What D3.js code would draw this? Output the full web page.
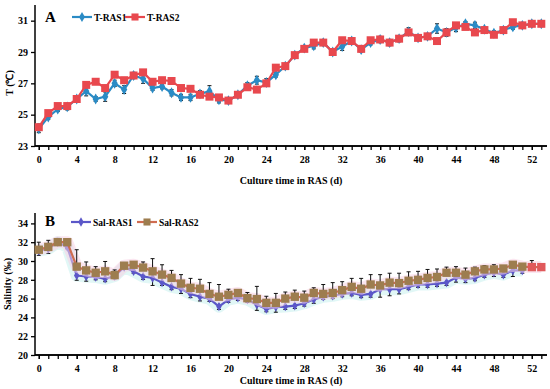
<!DOCTYPE html>
<html>
<head>
<meta charset="utf-8">
<script src="https://cdn.jsdelivr.net/npm/d3@7"></script>
<style>
  body { margin: 0; background: #fff; }
  svg text { font-family: "Liberation Serif", "Times New Roman", serif; font-weight: bold; }
</style>
</head>
<body>
<div id="chart"></div>
<script>

// days 0..53
var days = d3.range(0, 54);

// panel A, temperature (°C)
var tRas1 = [24.1, 24.85, 25.35, 25.5, 26.0, 26.5, 26.0, 26.15, 27.0, 26.6,
             27.5, 27.3, 26.7, 26.8, 26.4, 26.1, 26.1, 26.33, 26.5, 25.95,
             25.9, 26.27, 26.85, 27.2, 27.05, 27.55, 28.1, 28.8, 29.25, 29.4,
             29.6, 29.0, 29.35, 29.7, 29.15, 29.6, 29.8, 29.6, 29.85, 30.3,
             29.9, 30.0, 30.5, 30.25, 30.55, 30.8, 30.7, 30.45, 30.2, 30.4,
             30.6, 30.7, 30.8, 30.8];
var tRas2 = [24.2, 25.1, 25.55, 25.55, 26.0, 26.9, 27.1, 26.7, 27.55, 27.2,
             27.5, 27.7, 27.1, 27.2, 27.15, 26.7, 26.65, 26.27, 26.15, 26.1,
             25.9, 26.27, 26.75, 26.6, 27.0, 28.0, 28.1, 28.8, 29.2, 29.6,
             29.6, 29.0, 29.75, 29.7, 29.2, 29.75, 29.8, 29.6, 29.85, 30.25,
             29.9, 30.0, 29.7, 30.25, 30.7, 30.6, 30.25, 30.4, 30.1, 30.4,
             30.9, 30.7, 30.8, 30.8];
var tErr1 = [0.25, 0.15, 0.15, 0.2, 0.2, 0.3, 0.15, 0.3, 0.2, 0.25,
             0.2, 0.3, 0.15, 0.15, 0.2, 0.2, 0.2, 0.2, 0.35, 0.2,
             0.1, 0.15, 0.2, 0.25, 0.25, 0.15, 0.15, 0.15, 0.15, 0.2,
             0.15, 0.1, 0.25, 0.2, 0.15, 0.15, 0.2, 0.2, 0.2, 0.25,
             0.1, 0.15, 0.3, 0.25, 0.25, 0.15, 0.2, 0.15, 0.15, 0.1,
             0.15, 0.15, 0.15, 0.1];
var tErr2 = [0.2, 0.1, 0.1, 0.1, 0.15, 0.15, 0.1, 0.15, 0.15, 0.1,
             0.1, 0.1, 0.1, 0.1, 0.1, 0.1, 0.1, 0.15, 0.15, 0.15,
             0.1, 0.1, 0.1, 0.1, 0.15, 0.15, 0.15, 0.1, 0.15, 0.1,
             0.1, 0.1, 0.1, 0.1, 0.15, 0.1, 0.1, 0.15, 0.15, 0.1,
             0.1, 0.1, 0.15, 0.1, 0.1, 0.1, 0.1, 0.1, 0.1, 0.1,
             0.15, 0.1, 0.15, 0.1];

// panel B, salinity (‰)  RAS1 stops at day 51
var sRas1 = [31.1, 31.3, 32.0, 31.5, 28.45, 28.35, 28.3, 28.1, 28.4, 29.35,
             28.9, 28.35, 28.2, 27.7, 27.25, 27.05, 26.5, 26.2, 26.0, 25.15,
             25.9, 26.1, 25.9, 25.35, 24.9, 25.1, 25.15, 25.25, 25.5, 25.9,
             26.2, 26.3, 26.5, 26.6, 26.4, 26.5, 27.0, 27.0, 27.0, 27.25,
             27.5, 27.5, 27.6, 27.7, 28.25, 28.1, 28.2, 28.55, 28.75, 28.55,
             29.0, 29.0];
var sRas2 = [31.2, 31.5, 32.0, 32.0, 29.4, 29.0, 28.75, 28.9, 28.5, 29.5,
             29.6, 29.3, 28.9, 28.55, 28.2, 27.6, 27.15, 27.05, 26.5, 26.2,
             26.4, 26.6, 26.05, 25.95, 25.55, 25.55, 26.0, 26.2, 26.1, 26.6,
             26.5, 26.6, 26.9, 27.25, 27.05, 27.5, 27.4, 27.7, 27.65, 27.9,
             28.0, 28.2, 28.3, 28.75, 28.75, 28.55, 28.9, 29.1, 29.1, 29.2,
             29.6, 29.4, 29.35, 29.35];
var sErr1 = [0.5, 0.5, 0.2, 0.2, 0.5, 0.5, 0.3, 0.3, 0.3, 0.2,
             0.2, 0.3, 0.8, 0.3, 0.3, 0.5, 0.4, 0.45, 0.3, 0.3,
             0.3, 0.3, 0.3, 0.6, 0.3, 0.55, 0.3, 0.3, 0.3, 0.4,
             0.3, 0.3, 0.3, 0.3, 0.3, 0.35, 0.85, 0.7, 0.5, 0.3,
             0.3, 0.3, 0.3, 0.3, 0.5, 0.4, 0.3, 0.3, 0.4, 0.3,
             0.65, 0.3];
var sErr2 = [0.8, 0.7, 0.4, 0.1, 1.8, 0.9, 0.65, 1.05, 0.55, 0.1,
             0.15, 0.6, 1.35, 1.05, 0.8, 0.95, 1.0, 1.0, 1.2, 1.3,
             0.6, 0.35, 0.6, 1.35, 0.7, 1.0, 0.7, 0.7, 0.7, 0.55,
             1.0, 1.1, 0.9, 0.9, 1.1, 1.05, 1.15, 1.0, 1.05, 0.95,
             0.9, 0.9, 0.85, 0.6, 0.65, 0.7, 0.45, 0.4, 0.5, 0.2,
             0.25, 0.25, 0.7, 0];

var xTicks = d3.range(0, 53, 4);
var tTicks = [23, 25, 27, 29, 31];
var sTicks = [20, 22, 24, 26, 28, 30, 32, 34];

var width = 550, height = 389;

var svg = d3.select("#chart").append("svg")
    .attr("width", width)
    .attr("height", height);

var x = d3.scaleLinear().domain([-0.4, 53.6]).range([35, 547]);

function drawAxes(y, ticks, top, bottom) {
    // x axis, a tick each day, labels every 4
    var gx = svg.append("g").attr("transform", "translate(0," + bottom + ")");
    gx.call(d3.axisBottom(x).tickValues(days).tickSize(4).tickSizeOuter(0).tickFormat(""));
    gx.append("g").call(d3.axisBottom(x).tickValues(xTicks).tickSize(4).tickSizeOuter(0).tickPadding(6));
    gx.selectAll("path").attr("d", "M35,0H547");

    var gy = svg.append("g").attr("transform", "translate(35,0)");
    gy.call(d3.axisLeft(y).tickValues(ticks).tickSize(4).tickSizeOuter(0).tickPadding(3));
    gy.select("path").attr("d", "M0," + top + "V" + bottom);

    svg.selectAll(".domain").attr("stroke", "#000").attr("stroke-width", 1.5);
    svg.selectAll(".tick line").attr("stroke", "#000").attr("stroke-width", 1.3);
    svg.selectAll(".tick text").attr("fill", "#000")
        .style("font-size", "10px").style("font-family", "Liberation Serif").style("font-weight", "bold");
}

function drawSeries(y, vals, errs, color, shape, size, dir, glow, markerFill) {
    var pts = vals.map(function (v, i) { return { d: i, v: v, e: errs[i] }; });
    var line = d3.line().x(function (p) { return x(p.d); }).y(function (p) { return y(p.v); });

    if (glow) {
        svg.append("path").datum(pts)
            .attr("d", line).attr("fill", "none")
            .attr("stroke", glow).attr("stroke-width", 12)
            .attr("stroke-linejoin", "round").attr("opacity", 0.55);
    }

    // error bars
    var eb = svg.append("g").attr("stroke", "#111").attr("stroke-width", 1);
    pts.forEach(function (p) {
        if (!p.e) return;
        var lo = dir <= 0 ? p.v - p.e : p.v;
        var hi = dir >= 0 ? p.v + p.e : p.v;
        eb.append("line").attr("x1", x(p.d)).attr("x2", x(p.d)).attr("y1", y(lo)).attr("y2", y(hi));
        if (dir >= 0) eb.append("line").attr("x1", x(p.d) - 2).attr("x2", x(p.d) + 2).attr("y1", y(hi)).attr("y2", y(hi));
        if (dir <= 0) eb.append("line").attr("x1", x(p.d) - 2).attr("x2", x(p.d) + 2).attr("y1", y(lo)).attr("y2", y(lo));
    });

    svg.append("path").datum(pts)
        .attr("d", line).attr("fill", "none")
        .attr("stroke", color).attr("stroke-width", 2.2);

    svg.append("g").selectAll("path").data(pts).enter().append("path")
        .attr("d", d3.symbol().type(shape).size(size))
        .attr("transform", function (p) { return "translate(" + x(p.d) + "," + y(p.v) + ")"; })
        .attr("fill", function (p) { return markerFill ? markerFill(p) : color; });
}

function legendItem(x0, yy, color, shape, size, label, markerColor) {
    svg.append("line").attr("x1", x0).attr("x2", x0 + 20).attr("y1", yy).attr("y2", yy)
        .attr("stroke", color).attr("stroke-width", 2.2);
    svg.append("path").attr("d", d3.symbol().type(shape).size(size))
        .attr("transform", "translate(" + (x0 + 10) + "," + yy + ")")
        .attr("fill", markerColor || color);
    svg.append("text").attr("x", x0 + 22).attr("y", yy + 3.5)
        .style("font-size", "9.5px").text(label);
}

// ---------- panel A ----------
var yT = d3.scaleLinear().domain([23, 32]).range([146, 5]);
drawAxes(yT, tTicks, 5, 146);
drawSeries(yT, tRas1, tErr1, "#2a8bc5", d3.symbolDiamond, 34, 0);
drawSeries(yT, tRas2, tErr2, "#e8484e", d3.symbolSquare, 64, 0);

svg.append("text").attr("x", 45).attr("y", 22).style("font-size", "15px").text("A");
legendItem(72, 17, "#2a8bc5", d3.symbolDiamond, 30, "T-RAS1");
legendItem(125, 17, "#e8484e", d3.symbolSquare, 50, "T-RAS2");

svg.append("text")
    .attr("transform", "translate(13,83) rotate(-90)")
    .attr("text-anchor", "middle").style("font-size", "10px").text("T (℃)");
svg.append("text").attr("x", 291).attr("y", 184)
    .attr("text-anchor", "middle").style("font-size", "10px").text("Culture time in RAS (d)");

// ---------- panel B ----------
var yS = d3.scaleLinear().domain([20, 35]).range([355, 214]);
drawAxes(yS, sTicks, 213, 355);
drawSeries(yS, sRas1, sErr1, "#5b57c8", d3.symbolDiamond, 26, -1, "#c9f1ee");
drawSeries(yS, sRas2, sErr2, "#cf6c50", d3.symbolSquare, 70, 1, "#f8d2e4", function (p) {
    return p.d < sRas1.length ? "#9d7d4f" : "#e0595b";
});

svg.append("text").attr("x", 45).attr("y", 226).style("font-size", "15px").text("B");
legendItem(71, 222, "#5b57c8", d3.symbolDiamond, 26, "Sal-RAS1");
legendItem(137, 222, "#cf6c50", d3.symbolSquare, 50, "Sal-RAS2", "#9d7d4f");

svg.append("text")
    .attr("transform", "translate(11,284) rotate(-90)")
    .attr("text-anchor", "middle").style("font-size", "10px").text("Salinity (‰)");
svg.append("text").attr("x", 291).attr("y", 384)
    .attr("text-anchor", "middle").style("font-size", "10px").text("Culture time in RAS (d)");

</script>
</body>
</html>
